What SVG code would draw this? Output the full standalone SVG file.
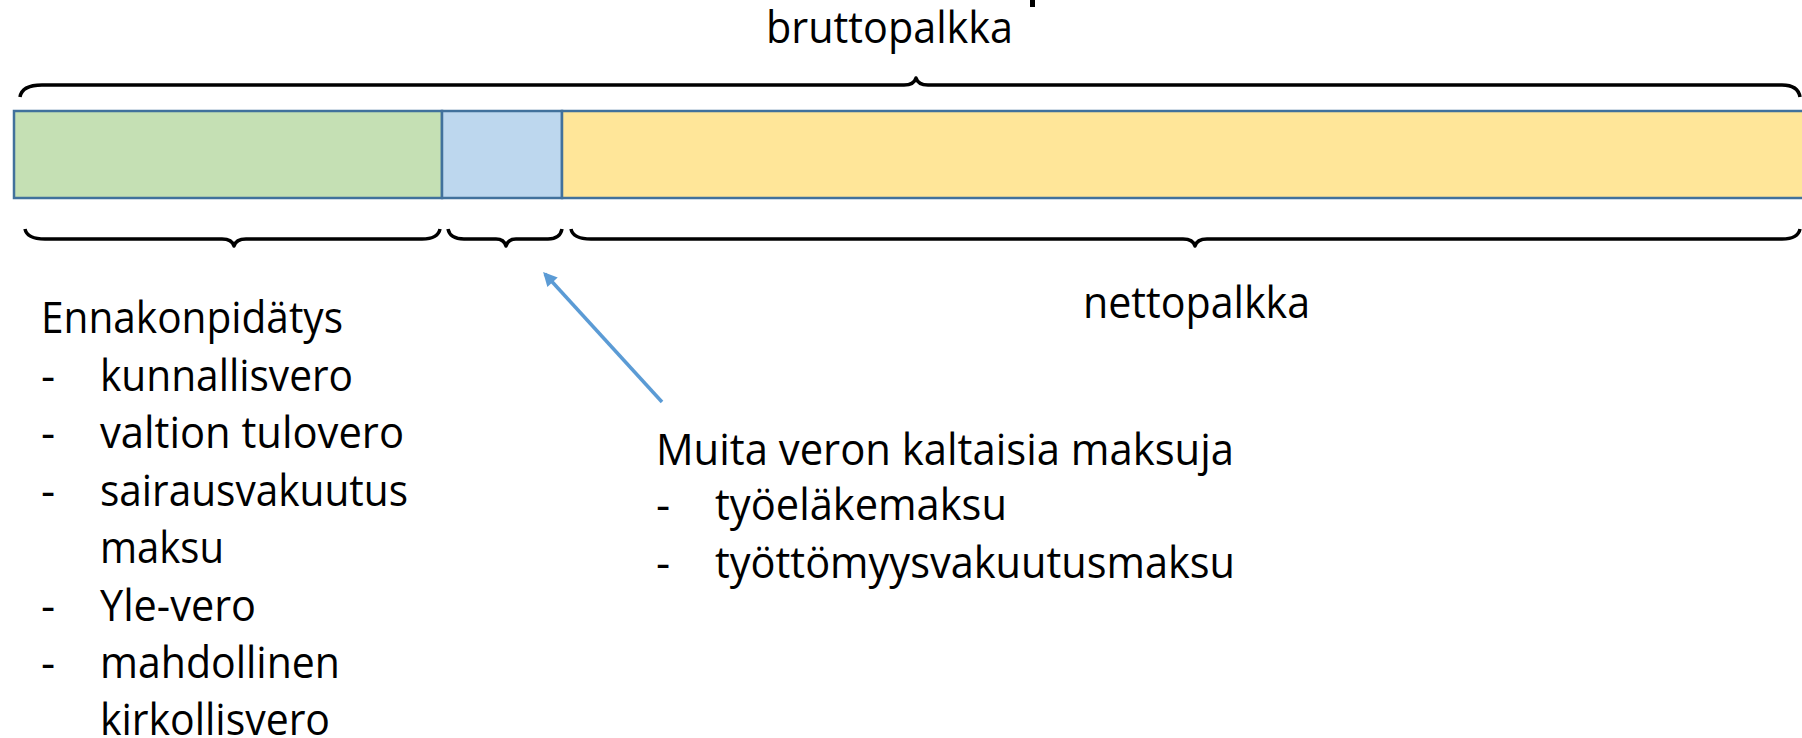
<svg xmlns="http://www.w3.org/2000/svg" width="1802" height="738" viewBox="0 0 1802 738">
<style>
text{font-family:"Open Sans","Noto Sans",sans-serif;font-size:44px;fill:#000}
.seg{stroke:#41719C;stroke-width:2.5}
.brace{fill:none;stroke:#000;stroke-width:3.5;stroke-linejoin:round}
.conn{stroke:#5B9BD5;stroke-width:3.5;fill:none}
</style>
<defs>
<marker id="ah" viewBox="0 0 10 10" refX="8" refY="5" markerWidth="16" markerHeight="14" markerUnits="userSpaceOnUse" orient="auto"><path d="M0,0 L10,5 L0,10 z" fill="#5B9BD5"/></marker>
</defs>
<rect x="0" y="0" width="1802" height="738" fill="#fff"/>
<rect x="1030" y="0" width="5" height="7" fill="#000"/>
<g id="title"><text x="766" y="43" textLength="247" lengthAdjust="spacingAndGlyphs">bruttopalkka</text></g>
<g id="bar">
<rect class="seg" x="14" y="111" width="428" height="87" fill="#C5E0B4"/>
<rect class="seg" x="442" y="111" width="120" height="87" fill="#BDD7EE"/>
<rect class="seg" x="562" y="111" width="1250" height="87" fill="#FFE699"/>
</g>
<g id="braces">
<path class="brace" d="M20,97 Q22,85 42,85 L904,85 Q914,85 916,78 Q918,85 928,85 L1782,85 Q1798,85 1800,97"/>
<path class="brace" d="M25,229 Q27,239 45,239 L222,239 Q232,239 234,246 Q236,239 246,239 L422,239 Q438,239 440,229"/>
<path class="brace" d="M448,229 Q450,239 464,239 L496,239 Q504,239 506,246 Q508,239 516,239 L548,239 Q560,239 562,229"/>
<path class="brace" d="M571,229 Q573,239 591,239 L1183,239 Q1193,239 1195,246 Q1197,239 1207,239 L1782,239 Q1798,239 1800,229"/>
</g>
<g id="connectors">
<line class="conn" x1="662" y1="402" x2="545" y2="274" marker-end="url(#ah)"/>
</g>
<g id="ennakonpidatys">
<text x="41" y="333" textLength="302" lengthAdjust="spacingAndGlyphs">Ennakonpidätys</text>
<text x="41" y="391">-</text><text x="100" y="391" textLength="253" lengthAdjust="spacingAndGlyphs">kunnallisvero</text>
<text x="41" y="448">-</text><text x="100" y="448" textLength="304" lengthAdjust="spacingAndGlyphs">valtion tulovero</text>
<text x="41" y="506">-</text><text x="100" y="506" textLength="308" lengthAdjust="spacingAndGlyphs">sairausvakuutus</text>
<text x="100" y="563" textLength="124" lengthAdjust="spacingAndGlyphs">maksu</text>
<text x="41" y="621">-</text><text x="100" y="621" textLength="156" lengthAdjust="spacingAndGlyphs">Yle-vero</text>
<text x="41" y="678">-</text><text x="100" y="678" textLength="240" lengthAdjust="spacingAndGlyphs">mahdollinen</text>
<text x="100" y="735" textLength="230" lengthAdjust="spacingAndGlyphs">kirkollisvero</text>
</g>
<g id="nettopalkka"><text x="1083" y="318" textLength="227" lengthAdjust="spacingAndGlyphs">nettopalkka</text></g>
<g id="muita">
<text x="656" y="465" textLength="578" lengthAdjust="spacingAndGlyphs">Muita veron kaltaisia maksuja</text>
<text x="656" y="520">-</text><text x="715" y="520" textLength="292" lengthAdjust="spacingAndGlyphs">työeläkemaksu</text>
<text x="656" y="578">-</text><text x="715" y="578" textLength="520" lengthAdjust="spacingAndGlyphs">työttömyysvakuutusmaksu</text>
</g>
</svg>
